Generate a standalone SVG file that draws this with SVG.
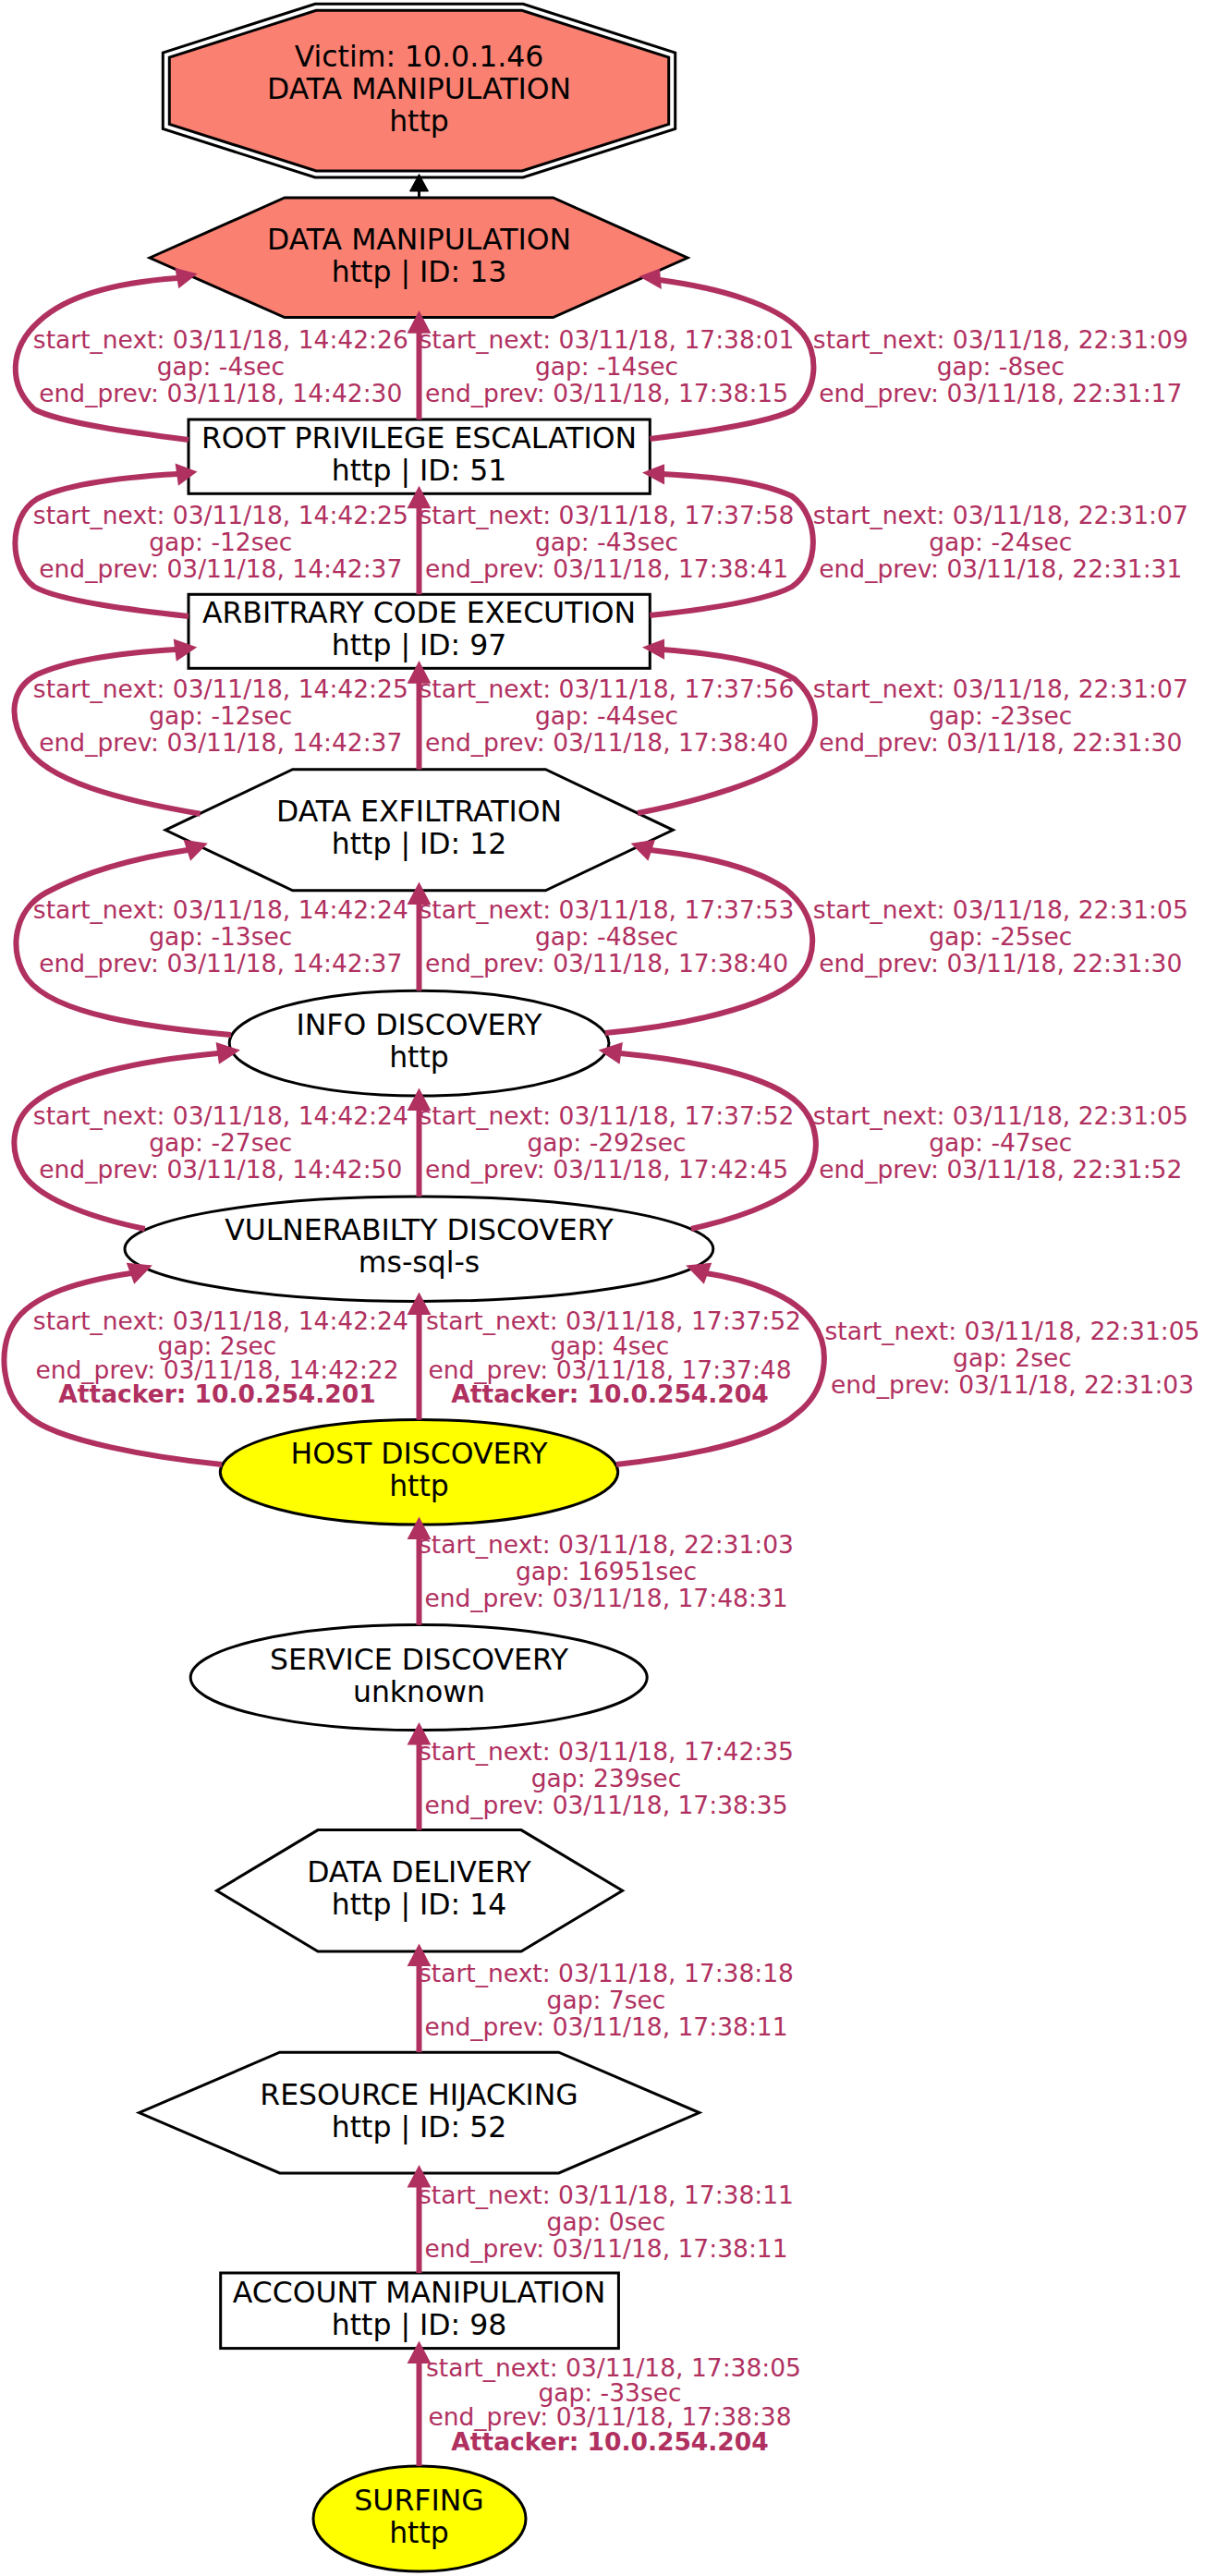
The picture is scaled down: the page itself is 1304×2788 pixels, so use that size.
<svg xmlns="http://www.w3.org/2000/svg" width="1304" height="2788" viewBox="0 0 1304 2788">
<style>
.nd{stroke:#000;stroke-width:3;fill:#fff}
.sal{fill:#FA8072}
.yel{fill:#FFFF00}
.nt{font-family:"DejaVu Sans","Liberation Sans",sans-serif;font-size:31.5px;fill:#000;text-anchor:middle}
.e{fill:none;stroke:#B03060;stroke-width:6}
.ah{fill:#B03060;stroke:#B03060;stroke-width:1.5;stroke-linejoin:miter}
.el{font-family:"DejaVu Sans","Liberation Sans",sans-serif;font-size:26.5px;fill:#B03060;text-anchor:middle}
.bd{font-weight:bold}
</style>
<rect width="1304" height="2788" fill="#fff"/>
<g id="nodes">
<g id="victim">
<polygon points="341,4.3 566,4.3 730.7,57 730.7,139.5 566,192 341,192 176.3,139.5 176.3,57" fill="none" stroke="#000" stroke-width="3"/>
<polygon points="342.1,11.3 564.9,11.3 723.7,62.1 723.7,134.4 564.9,185 342.1,185 183.3,134.4 183.3,62.1" fill="#FA8072" stroke="#000" stroke-width="3"/>
<text class="nt" x="453.5" y="72">Victim: 10.0.1.46</text>
<text class="nt" x="453.5" y="107">DATA MANIPULATION</text>
<text class="nt" x="453.5" y="142">http</text>
</g>
<g id="n13">
<polygon class="nd sal" points="162,279 308,214 598.5,214 744,279 598.5,343.5 308,343.5"/>
<text class="nt" x="453.5" y="270">DATA MANIPULATION</text>
<text class="nt" x="453.5" y="305">http | ID: 13</text>
</g>
<g id="n51">
<rect class="nd" x="204" y="454" width="499.3" height="80.3"/>
<text class="nt" x="453.5" y="485">ROOT PRIVILEGE ESCALATION</text>
<text class="nt" x="453.5" y="520">http | ID: 51</text>
</g>
<g id="n97">
<rect class="nd" x="204" y="643.3" width="499.3" height="80"/>
<text class="nt" x="453.5" y="674">ARBITRARY CODE EXECUTION</text>
<text class="nt" x="453.5" y="709">http | ID: 97</text>
</g>
<g id="n12">
<polygon class="nd" points="179,898.3 316.7,832.7 590.4,832.7 728.3,898.3 590.4,963.8 316.7,963.8"/>
<text class="nt" x="453.5" y="889">DATA EXFILTRATION</text>
<text class="nt" x="453.5" y="924">http | ID: 12</text>
</g>
<g id="info">
<ellipse class="nd" cx="453.6" cy="1129.1" rx="205.4" ry="56.9"/>
<text class="nt" x="453.5" y="1120">INFO DISCOVERY</text>
<text class="nt" x="453.5" y="1155">http</text>
</g>
<g id="vuln">
<ellipse class="nd" cx="453.4" cy="1351.7" rx="318.4" ry="56.7"/>
<text class="nt" x="453.5" y="1342">VULNERABILTY DISCOVERY</text>
<text class="nt" x="453.5" y="1377">ms-sql-s</text>
</g>
<g id="host">
<ellipse class="nd yel" cx="453.5" cy="1593.3" rx="215.2" ry="56.8"/>
<text class="nt" x="453.5" y="1584">HOST DISCOVERY</text>
<text class="nt" x="453.5" y="1619">http</text>
</g>
<g id="service">
<ellipse class="nd" cx="453.2" cy="1815.6" rx="247" ry="57"/>
<text class="nt" x="453.5" y="1806.5">SERVICE DISCOVERY</text>
<text class="nt" x="453.5" y="1841.5">unknown</text>
</g>
<g id="n14">
<polygon class="nd" points="234.5,2046.3 344,1980.6 564,1980.6 673.6,2046.3 564,2112 344,2112"/>
<text class="nt" x="453.5" y="2037">DATA DELIVERY</text>
<text class="nt" x="453.5" y="2072">http | ID: 14</text>
</g>
<g id="n52">
<polygon class="nd" points="150.5,2286.6 302.7,2221.2 604.6,2221.2 756.8,2286.6 604.6,2352 302.7,2352"/>
<text class="nt" x="453.5" y="2277.5">RESOURCE HIJACKING</text>
<text class="nt" x="453.5" y="2312.5">http | ID: 52</text>
</g>
<g id="n98">
<rect class="nd" x="238.7" y="2460" width="430.7" height="81.6"/>
<text class="nt" x="453.5" y="2491.5">ACCOUNT MANIPULATION</text>
<text class="nt" x="453.5" y="2526.5">http | ID: 98</text>
</g>
<g id="surfing">
<ellipse class="nd yel" cx="454" cy="2726" rx="115" ry="57"/>
<text class="nt" x="453.5" y="2717">SURFING</text>
<text class="nt" x="453.5" y="2752">http</text>
</g>
</g>
<g id="connectors">
<!-- DM -> Victim -->
<line x1="453.5" y1="214" x2="453.5" y2="205" stroke="#000" stroke-width="3"/>
<polygon points="453.5,188.5 463.5,207 443.5,207" fill="#000" stroke="#000" stroke-width="1"/>
<!-- row 1: ROOT -> DM -->
<path class="e" d="M204,476 C150,469 65,458 37,443 C10,418 8,378 43,347 C80,313 150,304 192,301"/>
<polygon class="ah" points="212,296.7 193.8,311 190.3,291"/>
<line class="e" x1="453.5" y1="454" x2="453.5" y2="359"/>
<polygon class="ah" points="453.5,337.7 465.2,360 441.8,360"/>
<path class="e" d="M703.3,475 C760,468 830,458 858,444 C885,425 888,380 865,357 C840,330 780,312 714,303"/>
<polygon class="ah" points="693.3,299.3 713.3,291.7 715,311.7"/>
<!-- row 2: ACE -> ROOT -->
<path class="e" d="M204,667 C150,661 65,651 37,635 C10,615 8,560 40,540 C75,522 140,516 192,513"/>
<polygon class="ah" points="212,510.7 193.5,524.3 190.5,502.7"/>
<line class="e" x1="453.5" y1="643.3" x2="453.5" y2="549"/>
<polygon class="ah" points="453.5,527.3 465.2,549.6 441.8,549.6"/>
<path class="e" d="M703.3,666 C760,660 830,650 857,635 C887,615 888,560 857,537 C820,520 770,516 716,513"/>
<polygon class="ah" points="696.7,511.7 718.3,503.3 718.3,523.3"/>
<!-- row 3: DE -> ACE -->
<path class="e" d="M216.7,880.7 C130,866 50,845 28,808 C8,775 12,745 40,730 C80,712 140,706 190,703"/>
<polygon class="ah" points="211.7,700.7 191.4,714.4 188.6,692.6"/>
<line class="e" x1="453.5" y1="832.7" x2="453.5" y2="738.5"/>
<polygon class="ah" points="453.5,716.7 465.2,739 441.8,739"/>
<path class="e" d="M690,880 C760,866 830,845 862,820 C890,795 888,760 860,735 C830,715 770,707 717,703"/>
<polygon class="ah" points="696.7,700.7 718.3,692.5 718.3,712.5"/>
<!-- row 4: INFO -> DE -->
<path class="e" d="M250,1120 C160,1112 60,1098 30,1060 C8,1030 15,985 50,966 C95,942 150,928 203,920"/>
<polygon class="ah" points="223.3,913.3 206.4,930.4 199.6,909.6"/>
<line class="e" x1="453.5" y1="1072.3" x2="453.5" y2="978"/>
<polygon class="ah" points="453.5,956 465.2,978.3 441.8,978.3"/>
<path class="e" d="M655,1118 C740,1110 830,1090 862,1060 C888,1035 885,990 850,962 C815,938 760,926 704,920"/>
<polygon class="ah" points="684.2,913.3 701.1,930.4 707.9,909.6"/>
<!-- row 5: VULN -> INFO -->
<path class="e" d="M156.7,1330 C90,1316 40,1295 25,1270 C10,1245 12,1215 35,1195 C70,1165 150,1148 236,1140"/>
<polygon class="ah" points="258.3,1136.7 237.5,1150.5 234.5,1129"/>
<line class="e" x1="453.5" y1="1295" x2="453.5" y2="1201"/>
<polygon class="ah" points="453.5,1179 465.2,1201.3 441.8,1201.3"/>
<path class="e" d="M748,1330 C810,1316 860,1295 875,1270 C888,1245 885,1215 865,1195 C835,1165 755,1148 671,1140"/>
<polygon class="ah" points="649.2,1136.7 670,1150.5 673,1129"/>
<!-- row 6: HOST -> VULN -->
<path class="e" d="M240,1585 C170,1578 60,1560 30,1532 C2,1510 -3,1460 15,1432 C35,1400 90,1386 142,1378"/>
<polygon class="ah" points="163.3,1370 145.5,1388.3 137.9,1367.7"/>
<line class="e" x1="453.5" y1="1536.7" x2="453.5" y2="1422"/>
<polygon class="ah" points="453.5,1400 465.2,1422.3 441.8,1422.3"/>
<path class="e" d="M667,1585 C740,1577 830,1560 862,1530 C895,1505 900,1460 880,1432 C860,1402 810,1385 764,1378"/>
<polygon class="ah" points="743.7,1370 761.5,1388.3 769.1,1367.7"/>
<!-- row 7..11 -->
<line class="e" x1="453.5" y1="1758.7" x2="453.5" y2="1665"/>
<polygon class="ah" points="453.5,1643 465.2,1665.3 441.8,1665.3"/>
<line class="e" x1="453.5" y1="1980.6" x2="453.5" y2="1887.5"/>
<polygon class="ah" points="453.5,1865.5 465.2,1887.8 441.8,1887.8"/>
<line class="e" x1="453.5" y1="2221.2" x2="453.5" y2="2127"/>
<polygon class="ah" points="453.5,2105 465.2,2127.3 441.8,2127.3"/>
<line class="e" x1="453.5" y1="2460" x2="453.5" y2="2366.5"/>
<polygon class="ah" points="453.5,2344.5 465.2,2366.8 441.8,2366.8"/>
<line class="e" x1="453.5" y1="2669" x2="453.5" y2="2557"/>
<polygon class="ah" points="453.5,2535 465.2,2557.3 441.8,2557.3"/>
</g>
<g id="edge-labels">
<!-- row 1 -->
<text class="el" x="238.8" y="377">start_next: 03/11/18, 14:42:26</text>
<text class="el" x="238.8" y="406">gap: -4sec</text>
<text class="el" x="238.8" y="435">end_prev: 03/11/18, 14:42:30</text>
<text class="el" x="656.5" y="377">start_next: 03/11/18, 17:38:01</text>
<text class="el" x="656.5" y="406">gap: -14sec</text>
<text class="el" x="656.5" y="435">end_prev: 03/11/18, 17:38:15</text>
<text class="el" x="1082.8" y="377">start_next: 03/11/18, 22:31:09</text>
<text class="el" x="1082.8" y="406">gap: -8sec</text>
<text class="el" x="1082.8" y="435">end_prev: 03/11/18, 22:31:17</text>
<!-- row 2 -->
<text class="el" x="238.8" y="566.5">start_next: 03/11/18, 14:42:25</text>
<text class="el" x="238.8" y="595.5">gap: -12sec</text>
<text class="el" x="238.8" y="624.5">end_prev: 03/11/18, 14:42:37</text>
<text class="el" x="656.5" y="566.5">start_next: 03/11/18, 17:37:58</text>
<text class="el" x="656.5" y="595.5">gap: -43sec</text>
<text class="el" x="656.5" y="624.5">end_prev: 03/11/18, 17:38:41</text>
<text class="el" x="1082.8" y="566.5">start_next: 03/11/18, 22:31:07</text>
<text class="el" x="1082.8" y="595.5">gap: -24sec</text>
<text class="el" x="1082.8" y="624.5">end_prev: 03/11/18, 22:31:31</text>
<!-- row 3 -->
<text class="el" x="238.8" y="755">start_next: 03/11/18, 14:42:25</text>
<text class="el" x="238.8" y="784">gap: -12sec</text>
<text class="el" x="238.8" y="813">end_prev: 03/11/18, 14:42:37</text>
<text class="el" x="656.5" y="755">start_next: 03/11/18, 17:37:56</text>
<text class="el" x="656.5" y="784">gap: -44sec</text>
<text class="el" x="656.5" y="813">end_prev: 03/11/18, 17:38:40</text>
<text class="el" x="1082.8" y="755">start_next: 03/11/18, 22:31:07</text>
<text class="el" x="1082.8" y="784">gap: -23sec</text>
<text class="el" x="1082.8" y="813">end_prev: 03/11/18, 22:31:30</text>
<!-- row 4 -->
<text class="el" x="238.8" y="994">start_next: 03/11/18, 14:42:24</text>
<text class="el" x="238.8" y="1023">gap: -13sec</text>
<text class="el" x="238.8" y="1052">end_prev: 03/11/18, 14:42:37</text>
<text class="el" x="656.5" y="994">start_next: 03/11/18, 17:37:53</text>
<text class="el" x="656.5" y="1023">gap: -48sec</text>
<text class="el" x="656.5" y="1052">end_prev: 03/11/18, 17:38:40</text>
<text class="el" x="1082.8" y="994">start_next: 03/11/18, 22:31:05</text>
<text class="el" x="1082.8" y="1023">gap: -25sec</text>
<text class="el" x="1082.8" y="1052">end_prev: 03/11/18, 22:31:30</text>
<!-- row 5 -->
<text class="el" x="238.8" y="1217">start_next: 03/11/18, 14:42:24</text>
<text class="el" x="238.8" y="1246">gap: -27sec</text>
<text class="el" x="238.8" y="1275">end_prev: 03/11/18, 14:42:50</text>
<text class="el" x="656.5" y="1217">start_next: 03/11/18, 17:37:52</text>
<text class="el" x="656.5" y="1246">gap: -292sec</text>
<text class="el" x="656.5" y="1275">end_prev: 03/11/18, 17:42:45</text>
<text class="el" x="1082.8" y="1217">start_next: 03/11/18, 22:31:05</text>
<text class="el" x="1082.8" y="1246">gap: -47sec</text>
<text class="el" x="1082.8" y="1275">end_prev: 03/11/18, 22:31:52</text>
<!-- row 6 -->
<text class="el" x="238.8" y="1439">start_next: 03/11/18, 14:42:24</text>
<text class="el" x="235" y="1466">gap: 2sec</text>
<text class="el" x="235" y="1492">end_prev: 03/11/18, 14:42:22</text>
<text class="el bd" x="235" y="1518">Attacker: 10.0.254.201</text>
<text class="el" x="664" y="1439">start_next: 03/11/18, 17:37:52</text>
<text class="el" x="660" y="1466">gap: 4sec</text>
<text class="el" x="660" y="1492">end_prev: 03/11/18, 17:37:48</text>
<text class="el bd" x="660" y="1518">Attacker: 10.0.254.204</text>
<text class="el" x="1095.5" y="1450">start_next: 03/11/18, 22:31:05</text>
<text class="el" x="1095.5" y="1479">gap: 2sec</text>
<text class="el" x="1095.5" y="1508">end_prev: 03/11/18, 22:31:03</text>
<!-- row 7 -->
<text class="el" x="656" y="1681">start_next: 03/11/18, 22:31:03</text>
<text class="el" x="656" y="1710">gap: 16951sec</text>
<text class="el" x="656" y="1739">end_prev: 03/11/18, 17:48:31</text>
<!-- row 8 -->
<text class="el" x="656" y="1905">start_next: 03/11/18, 17:42:35</text>
<text class="el" x="656" y="1934">gap: 239sec</text>
<text class="el" x="656" y="1963">end_prev: 03/11/18, 17:38:35</text>
<!-- row 9 -->
<text class="el" x="656" y="2145">start_next: 03/11/18, 17:38:18</text>
<text class="el" x="656" y="2174">gap: 7sec</text>
<text class="el" x="656" y="2203">end_prev: 03/11/18, 17:38:11</text>
<!-- row 10 -->
<text class="el" x="656" y="2385">start_next: 03/11/18, 17:38:11</text>
<text class="el" x="656" y="2414">gap: 0sec</text>
<text class="el" x="656" y="2443">end_prev: 03/11/18, 17:38:11</text>
<!-- row 11 -->
<text class="el" x="664" y="2572">start_next: 03/11/18, 17:38:05</text>
<text class="el" x="660" y="2598.5">gap: -33sec</text>
<text class="el" x="660" y="2625">end_prev: 03/11/18, 17:38:38</text>
<text class="el bd" x="660" y="2651.5">Attacker: 10.0.254.204</text>
</g>
</svg>
